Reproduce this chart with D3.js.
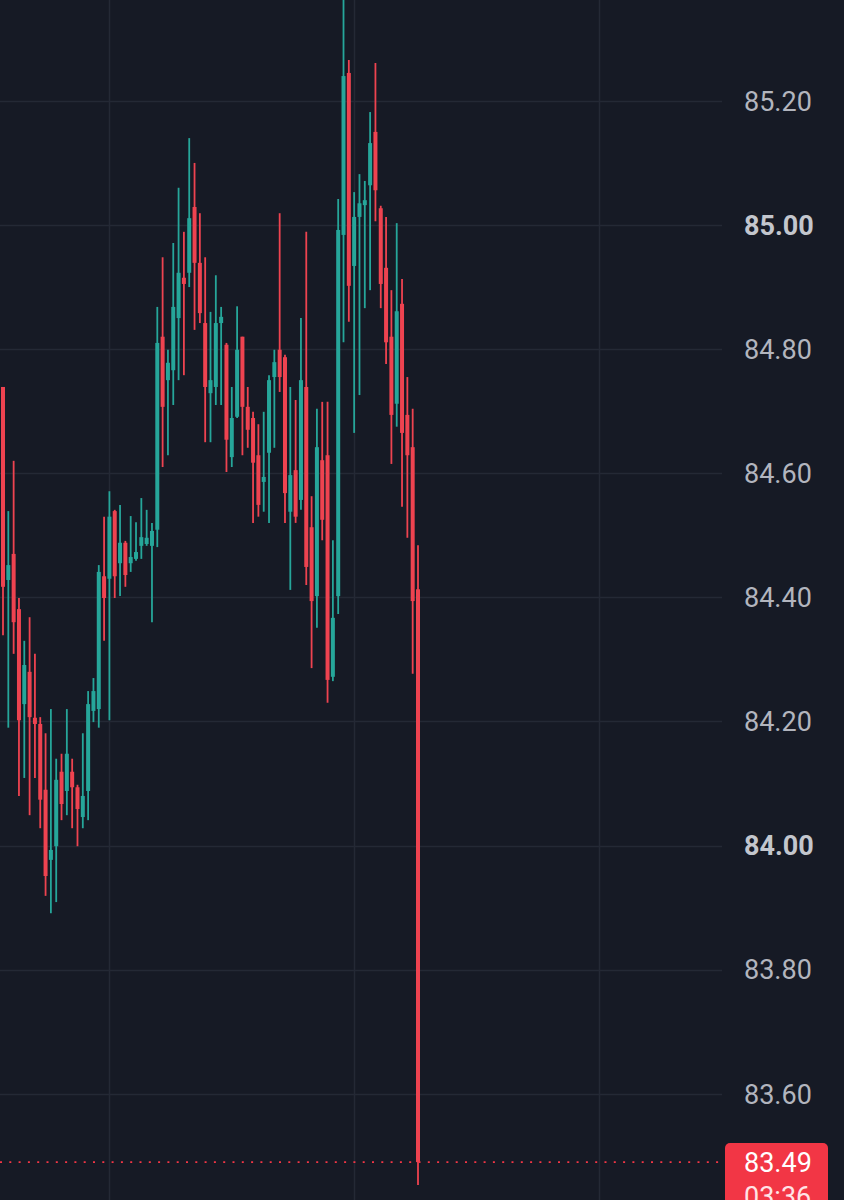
<!DOCTYPE html>
<html><head><meta charset="utf-8">
<script src="https://cdn.jsdelivr.net/npm/d3@7"></script>
<style>html,body{margin:0;padding:0;background:#161a25;overflow:hidden}svg{display:block}</style>
</head><body>
<svg id="chart" width="844" height="1200"></svg>
<script>
// ---- data (1 candle per slot, oldest first) ----
const opens  = [84.739,84.428,84.470,84.381,84.228,84.280,84.206,84.196,84.090,83.977,
                83.999,84.119,84.088,84.119,84.094,84.046,84.088,84.217,84.220,84.434,
                84.430,84.539,84.455,84.488,84.455,84.462,84.483,84.486,84.483,84.509,
                84.820,84.750,84.766,84.850,84.915,84.923,85.029,84.939,84.842,84.729,
                84.739,84.842,84.807,84.626,84.691,84.820,84.707,84.689,84.629,84.586,
                84.633,84.755,84.799,84.787,84.538,84.605,84.557,84.739,84.513,84.402,
                84.621,84.629,84.272,84.402,84.984,85.245,84.934,85.013,85.032,85.064,
                85.150,85.027,84.931,84.820,84.712,84.873,84.694,84.642,84.413];
const highs  = [84.739,84.539,84.620,84.399,84.330,84.368,84.309,84.207,84.181,84.220,
                84.140,84.148,84.220,84.140,84.098,84.181,84.249,84.270,84.452,84.530,
                84.571,84.541,84.549,84.491,84.531,84.521,84.560,84.541,84.520,84.868,
                84.948,84.799,84.971,85.060,84.989,85.140,85.100,85.019,84.948,84.860,
                84.919,84.868,84.810,84.739,84.869,84.820,84.739,84.699,84.679,84.699,
                84.758,84.799,85.019,84.791,84.739,84.718,84.850,84.989,84.563,84.704,
                84.715,84.715,84.492,85.042,85.380,85.266,85.053,85.082,85.071,85.182,
                85.261,85.031,85.013,84.895,85.003,84.913,84.755,84.704,84.484];
const lows   = [84.339,84.190,84.309,84.080,84.109,84.049,84.109,84.028,83.919,83.891,
                83.909,84.041,84.049,84.028,83.999,84.028,84.041,84.199,84.190,84.330,
                84.202,84.399,84.402,84.417,84.441,84.459,84.462,84.483,84.360,84.481,
                84.610,84.629,84.710,84.750,84.758,84.900,84.831,84.842,84.650,84.650,
                84.710,84.710,84.602,84.610,84.689,84.629,84.641,84.520,84.530,84.538,
                84.520,84.641,84.731,84.520,84.412,84.520,84.541,84.420,84.286,84.351,
                84.492,84.230,84.265,84.373,84.811,84.844,84.665,84.726,84.866,84.895,
                85.006,84.866,84.776,84.615,84.675,84.546,84.496,84.277,83.453];
const closes = [84.417,84.452,84.360,84.202,84.291,84.207,84.196,84.074,83.951,83.993,
                84.106,84.067,84.148,84.094,84.059,84.080,84.228,84.249,84.441,84.399,
                84.530,84.434,84.488,84.436,84.465,84.473,84.497,84.496,84.507,84.810,
                84.707,84.778,84.868,84.923,84.905,85.011,84.939,84.858,84.739,84.750,
                84.842,84.852,84.654,84.689,84.799,84.707,84.670,84.617,84.549,84.594,
                84.750,84.779,84.755,84.568,84.597,84.530,84.750,84.449,84.394,84.642,
                84.525,84.267,84.367,84.992,85.240,84.902,85.013,85.035,85.040,85.132,
                85.056,84.905,84.811,84.694,84.861,84.665,84.629,84.394,83.490];
const priceTicks = [85.2, 85.0, 84.8, 84.6, 84.4, 84.2, 84.0, 83.8, 83.6];
const boldTicks  = [85.0, 84.0];
const timeGridSlots = [20, 66, 112];
const lastPrice = 83.49;
const countdown = "03:36";

// ---- style ----
const W = 844, H = 1200, plotRight = 722;
const bg = "#161a25", gridCol = "#242935", textCol = "#b2b5be";
const upCol = "#26a69a", downCol = "#ee4350", boxCol = "#f23645";

const svg = d3.select("#chart");
svg.append("rect").attr("width", W).attr("height", H).attr("fill", bg);

const x = d3.scaleLinear().domain([0, opens.length - 1]).range([3, 418]);
const y = d3.scaleLinear().domain([84, 85]).range([845.6, 225]);

const candles = opens.map((o, i) => ({i, o, h: highs[i], l: lows[i], c: closes[i]}));

// grid
svg.append("g").selectAll("line").data(priceTicks).join("line")
  .attr("x1", 0).attr("x2", plotRight)
  .attr("y1", d => Math.round(y(d)) + 0.5).attr("y2", d => Math.round(y(d)) + 0.5)
  .attr("stroke", gridCol).attr("stroke-width", 1.5);
svg.append("g").selectAll("line").data(timeGridSlots).join("line")
  .attr("x1", d => Math.round(x(d)) + 0.5).attr("x2", d => Math.round(x(d)) + 0.5)
  .attr("y1", 0).attr("y2", H)
  .attr("stroke", gridCol).attr("stroke-width", 1.5);

// candles
svg.append("clipPath").attr("id", "clip").append("rect")
  .attr("x", 0).attr("y", 0).attr("width", plotRight).attr("height", H);
const g = svg.append("g").attr("clip-path", "url(#clip)");
const col = d => d.c >= d.o ? upCol : downCol;
g.selectAll("line.wick").data(candles).join("line").attr("class", "wick")
  .attr("x1", d => x(d.i)).attr("x2", d => x(d.i))
  .attr("y1", d => y(d.h)).attr("y2", d => y(d.l))
  .attr("stroke", col).attr("stroke-width", 1.8);
const bw = 4;
g.selectAll("rect.body").data(candles).join("rect").attr("class", "body")
  .attr("x", d => x(d.i) - bw / 2).attr("width", bw)
  .attr("y", d => y(Math.max(d.o, d.c)))
  .attr("height", d => Math.max(1.5, Math.abs(y(d.o) - y(d.c))))
  .attr("fill", col);

// last price dotted line
svg.append("line")
  .attr("x1", 0).attr("x2", plotRight)
  .attr("y1", y(lastPrice)).attr("y2", y(lastPrice))
  .attr("stroke", boxCol).attr("stroke-width", 1.6)
  .attr("stroke-dasharray", "2 7.3");

// axis labels
const fs = 27;
svg.append("g").selectAll("text").data(priceTicks).join("text")
  .attr("x", 744).attr("y", d => y(d) + fs * 0.36)
  .attr("font-family", "Roboto, 'Noto Sans', sans-serif")
  .attr("font-size", fs)
  .attr("font-weight", d => boldTicks.includes(d) ? 700 : 400)
  .attr("fill", d => boldTicks.includes(d) ? "#c3c6cd" : textCol)
  .text(d => d3.format(".2f")(d));

// last price box (countdown line is partly cut by the bottom edge, as in the reference)
const by = y(lastPrice) - 19;
svg.append("rect").attr("x", 725).attr("y", by).attr("width", 103).attr("height", 90)
  .attr("rx", 5).attr("fill", boxCol);
svg.append("text").attr("x", 744).attr("y", y(lastPrice) + fs * 0.36)
  .attr("font-family", "Roboto, 'Noto Sans', sans-serif").attr("font-size", fs)
  .attr("fill", "#ffffff").text(d3.format(".2f")(lastPrice));
svg.append("text").attr("x", 744).attr("y", y(lastPrice) + fs * 0.36 + 34)
  .attr("font-family", "Roboto, 'Noto Sans', sans-serif").attr("font-size", fs)
  .attr("fill", "#ffe3e5").text(countdown);
</script>
</body></html>
